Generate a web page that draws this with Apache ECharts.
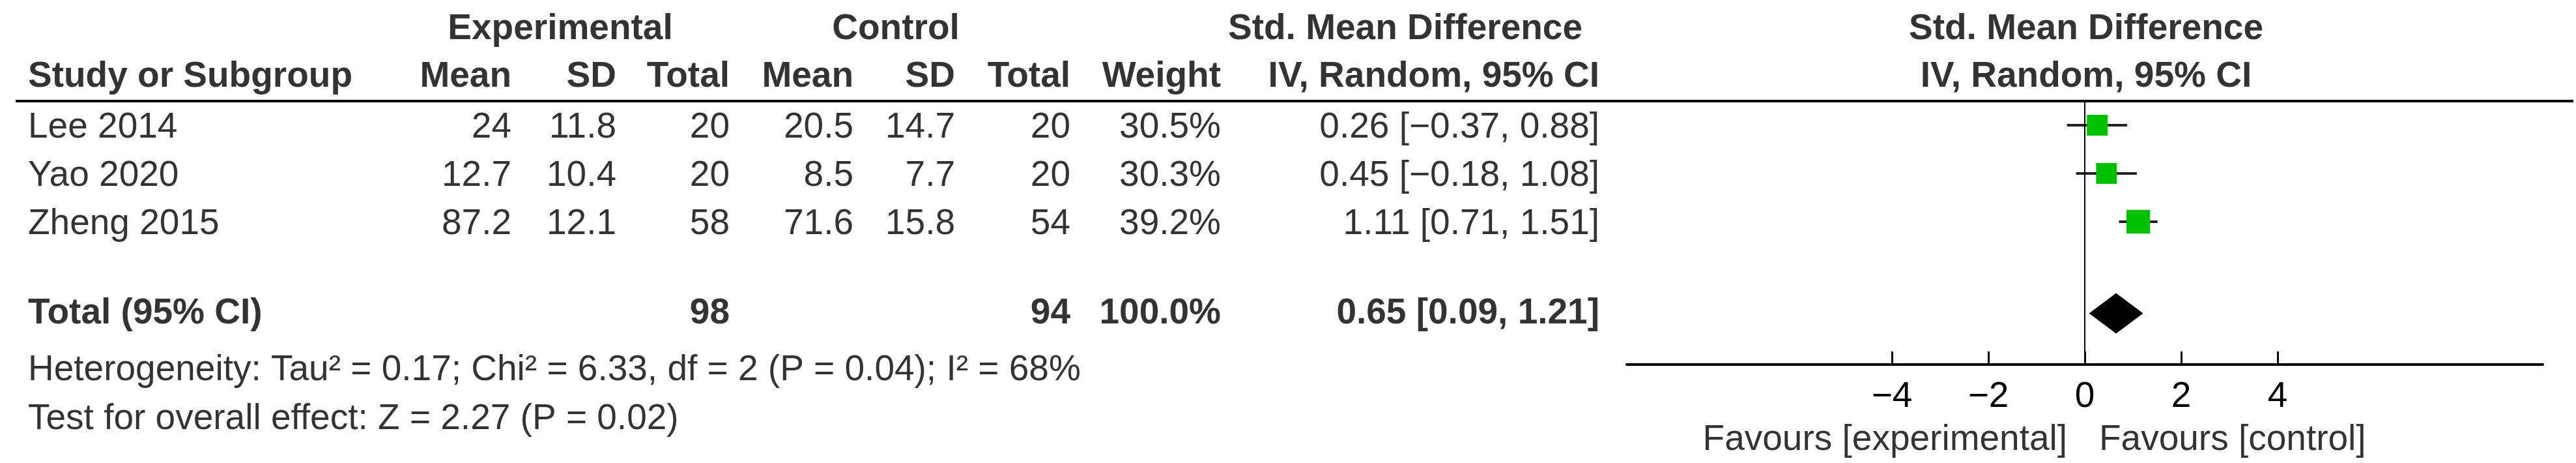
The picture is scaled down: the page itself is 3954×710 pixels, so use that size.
<!DOCTYPE html>
<html style="height: 100%">
<head>
<meta charset="utf-8">
<script src="https://cdn.jsdelivr.net/npm/echarts@6/dist/echarts.min.js"></script>
</head>
<body style="height: 100%; margin: 0; background: #fff">
<div id="container" style="width: 3954px; height: 710px"></div>
<script type="text/javascript">
var studies = ['Lee 2014', 'Yao 2020', 'Zheng 2015'];
var expMean = ['24', '12.7', '87.2'];
var expSD = ['11.8', '10.4', '12.1'];
var expN = [20, 20, 58];
var ctlMean = ['20.5', '8.5', '71.6'];
var ctlSD = ['14.7', '7.7', '15.8'];
var ctlN = [20, 20, 54];
var weight = [30.5, 30.3, 39.2];
var smd = [0.26, 0.45, 1.11];
var ciLo = [-0.37, -0.18, 0.71];
var ciHi = [0.88, 1.08, 1.51];
var totalExpN = 98, totalCtlN = 94, totalWeight = 100.0;
var totalSmd = 0.65, totalLo = 0.09, totalHi = 1.21;
var heterogeneity = 'Heterogeneity: Tau\u00b2 = 0.17; Chi\u00b2 = 6.33, df = 2 (P = 0.04); I\u00b2 = 68%';
var overall = 'Test for overall effect: Z = 2.27 (P = 0.02)';
var tickValues = [-4, -2, 0, 2, 4];

// layout (y units of 74px, row 0 starts under header line)
var rowY = [0.5, 1.5, 2.5];
var totalY = 4.4;
var FONT = 'Liberation Sans, Arial, sans-serif';
var FS = 55;
function m(v) { return String(v).replace('-', '\u2212'); }
function ci(e, l, h) { return e.toFixed(2) + ' [' + m(l.toFixed(2)) + ', ' + h.toFixed(2) + ']'; }

var texts = [];
function t(x, y, s, align, bold) { texts.push({ value: [x, y], s: s, align: align, bold: !!bold }); }
var LEFT = 43;
// headers
t(860, -1.49, 'Experimental', 'center', true);
t(1375, -1.49, 'Control', 'center', true);
t(2157, -1.49, 'Std. Mean Difference', 'center', true);
t(3202, -1.49, 'Std. Mean Difference', 'center', true);
t(LEFT, -0.5, 'Study or Subgroup', 'left', true);
var cols = [785, 946, 1120, 1310, 1466, 1643, 1874, 2455];
['Mean', 'SD', 'Total', 'Mean', 'SD', 'Total', 'Weight', 'IV, Random, 95% CI'].forEach(function (h, i) {
    t(cols[i], -0.5, h, 'right', true);
});
t(3202, -0.5, 'IV, Random, 95% CI', 'center', true);
for (var i = 0; i < studies.length; i++) {
    var y = rowY[i] + 0.05;
    t(LEFT, y, studies[i], 'left');
    var vals = [expMean[i], expSD[i], expN[i], ctlMean[i], ctlSD[i], ctlN[i], weight[i].toFixed(1) + '%', ci(smd[i], ciLo[i], ciHi[i])];
    vals.forEach(function (v, j) { t(cols[j], y, String(v), 'right'); });
}
t(LEFT, totalY, 'Total (95% CI)', 'left', true);
t(cols[2], totalY, String(totalExpN), 'right', true);
t(cols[5], totalY, String(totalCtlN), 'right', true);
t(cols[6], totalY, totalWeight.toFixed(1) + '%', 'right', true);
t(cols[7], totalY, ci(totalSmd, totalLo, totalHi), 'right', true);
t(LEFT, 5.58, heterogeneity, 'left');
t(LEFT, 6.59, overall, 'left');
t(3173, 7.03, 'Favours [experimental]', 'right');
t(3222, 7.03, 'Favours [control]', 'left');

var chart = echarts.init(document.getElementById('container'));
var option = {
    animation: false,
    backgroundColor: '#fff',
    textStyle: { fontFamily: FONT },
    grid: [
        { left: 0, right: 0, top: 0, bottom: 0 },
        { left: 2497, right: 51, top: 155, bottom: 151 }
    ],
    xAxis: [
        { gridIndex: 0, type: 'value', min: 0, max: 3954, show: false },
        {
            gridIndex: 1, type: 'value', min: -9.5, max: 9.5, position: 'bottom',
            splitLine: { show: false },
            axisLine: { onZero: false, lineStyle: { color: '#000', width: 4 } },
            axisTick: { inside: true, length: 20, lineStyle: { color: '#000', width: 3 }, customValues: tickValues },
            axisLabel: { customValues: tickValues, formatter: m, color: '#000', fontSize: FS, fontFamily: FONT, margin: 22 }
        }
    ],
    yAxis: [
        { gridIndex: 0, type: 'value', min: -155 / 74, max: 555 / 74, inverse: true, show: false },
        { gridIndex: 1, type: 'value', min: 0, max: 404 / 74, inverse: true, show: false }
    ],
    graphic: [
        { type: 'line', shape: { x1: 24, y1: 155, x2: 3950, y2: 155 }, style: { stroke: '#000', lineWidth: 4 } }
    ],
    series: [
        {
            type: 'scatter', xAxisIndex: 0, yAxisIndex: 0, symbolSize: 0, clip: false,
            data: texts.map(function (d) {
                return {
                    value: d.value,
                    label: {
                        show: true, position: 'inside', formatter: d.s, align: d.align,
                        verticalAlign: 'middle', color: '#000', fontSize: FS, fontFamily: FONT,
                        fontWeight: d.bold ? 'bold' : 'normal'
                    }
                };
            })
        },
        {
            type: 'custom', xAxisIndex: 1, yAxisIndex: 1, clip: false,
            data: studies.map(function (s, i) { return [ciLo[i], ciHi[i], rowY[i]]; }),
            renderItem: function (params, api) {
                var a = api.coord([api.value(0), api.value(2)]);
                var b = api.coord([api.value(1), api.value(2)]);
                return { type: 'line', shape: { x1: a[0], y1: a[1], x2: b[0], y2: b[1] }, style: { stroke: '#222', lineWidth: 4 } };
            },
            markLine: {
                silent: true, symbol: ['none', 'none'], label: { show: false },
                lineStyle: { color: '#000', width: 2, type: 'solid' },
                data: [{ xAxis: 0 }]
            }
        },
        {
            type: 'scatter', xAxisIndex: 1, yAxisIndex: 1, symbol: 'rect',
            itemStyle: { color: '#00c000', opacity: 1 },
            symbolSize: function (v) { return 32 * Math.sqrt(v[2] / 30.5); },
            data: studies.map(function (s, i) { return [smd[i], rowY[i], weight[i]]; })
        },
        {
            type: 'custom', xAxisIndex: 1, yAxisIndex: 1, clip: false,
            data: [[totalLo, totalSmd, totalHi, totalY]],
            renderItem: function (params, api) {
                var y = api.value(3);
                var l = api.coord([api.value(0), y]), c = api.coord([api.value(1), y]), r = api.coord([api.value(2), y]);
                return {
                    type: 'polygon',
                    shape: { points: [[l[0], l[1]], [c[0], c[1] - 31], [r[0], r[1]], [c[0], c[1] + 31]] },
                    style: { fill: '#000' }
                };
            }
        }
    ]
};
chart.setOption(option);
</script>
</body>
</html>
